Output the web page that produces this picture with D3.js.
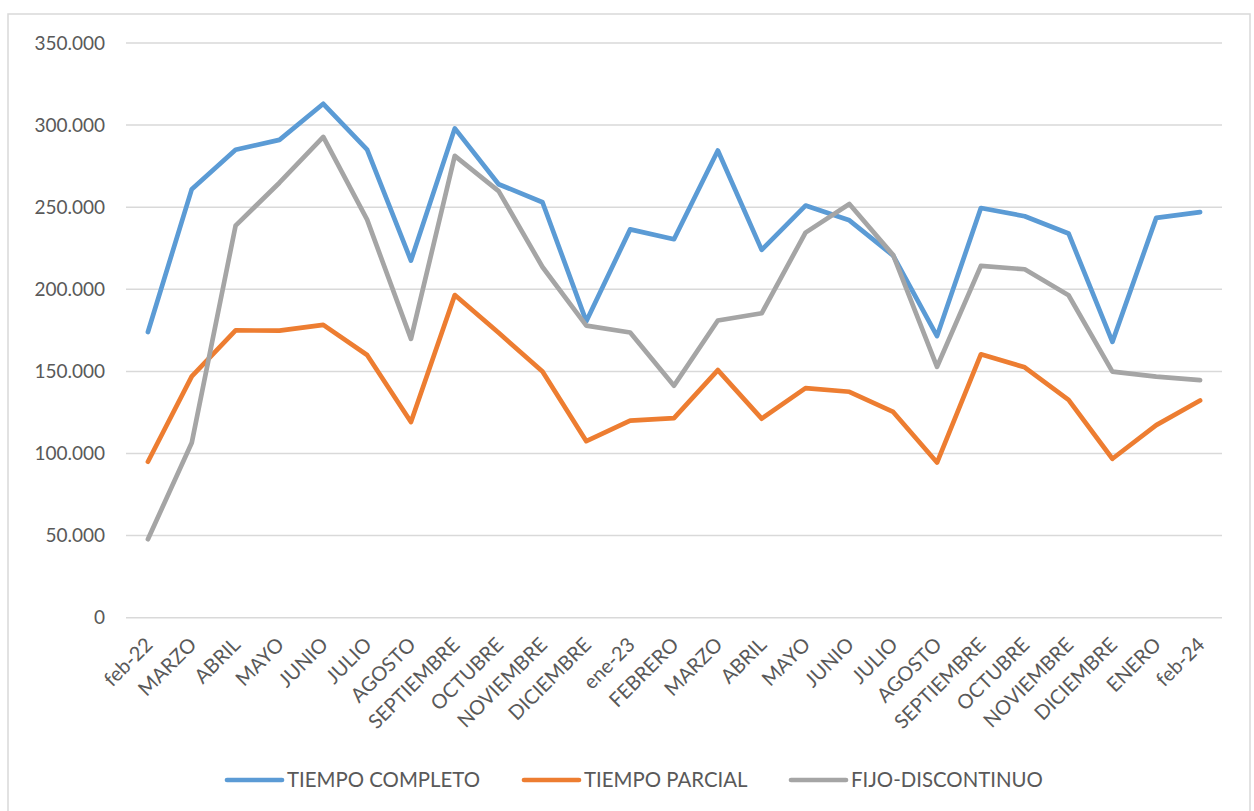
<!DOCTYPE html>
<html>
<head>
<meta charset="utf-8">
<script src="https://cdn.jsdelivr.net/npm/d3@7"></script>
<style>
  html, body { margin: 0; padding: 0; background: #ffffff; }
  svg { display: block; }
  text { font-family: "Lato", "Liberation Sans", sans-serif; fill: #595959; }
</style>
</head>
<body>
<svg id="chart" width="1254" height="811"></svg>
<script>
const categories = ["feb-22","MARZO","ABRIL","MAYO","JUNIO","JULIO","AGOSTO","SEPTIEMBRE","OCTUBRE","NOVIEMBRE","DICIEMBRE","ene-23","FEBRERO","MARZO","ABRIL","MAYO","JUNIO","JULIO","AGOSTO","SEPTIEMBRE","OCTUBRE","NOVIEMBRE","DICIEMBRE","ENERO","feb-24"];
const tiempoCompleto = [174000,261000,285000,291000,313000,285000,217500,298000,264000,253000,180500,236500,230500,284500,224000,251000,242000,220500,171500,249500,244500,234000,168000,243500,247000];
const tiempoParcial = [95000,147000,175000,174800,178300,160000,119200,196500,173500,150000,107500,120000,121500,150800,121200,139800,137600,125300,94500,160400,152500,132700,96800,117300,132300];
const fijoDiscontinuo = [47800,106500,238800,264900,292800,242400,169800,281300,259800,213600,177900,173700,141300,181000,185400,234500,252000,220800,152800,214300,212200,196400,149900,146800,144700];
const seriesNames = ["TIEMPO COMPLETO","TIEMPO PARCIAL","FIJO-DISCONTINUO"];
const seriesColors = ["#5b9bd5","#ed7d31","#a5a5a5"];
const yTicks = [0,50000,100000,150000,200000,250000,300000,350000];

const svg = d3.select("#chart");
// outer chart border
svg.append("rect").attr("x",8).attr("y",14).attr("width",1242).attr("height",820)
  .attr("fill","#fff").attr("stroke","#d9d9d9").attr("stroke-width",1.5);

const x = d3.scalePoint().domain(d3.range(categories.length)).range([126,1222]).padding(0.5);
const y = d3.scaleLinear().domain([0,350000]).range([617.7,43]);

const fmt = v => d3.format(",")(v).replace(/,/g,".");

// gridlines
svg.append("g").selectAll("line").data(yTicks).join("line")
  .attr("x1",126).attr("x2",1222)
  .attr("y1",d=>y(d)).attr("y2",d=>y(d))
  .attr("stroke","#d9d9d9").attr("stroke-width",1.5);

// y labels
const yAxis = d3.axisLeft(y).tickValues(yTicks).tickFormat(fmt).tickSize(0).tickPadding(0);
const yg = svg.append("g").attr("transform","translate(105,0)").call(yAxis);
yg.select(".domain").remove();
yg.selectAll("text").attr("font-size",19).attr("fill","#595959")
  .style("font-family","Lato, 'Liberation Sans', sans-serif");

// x labels
const xAxis = d3.axisBottom(x).tickFormat(i=>categories[i]).tickSize(0).tickPadding(0);
const xg = svg.append("g").call(xAxis);
xg.select(".domain").remove();
xg.selectAll(".tick").attr("transform",d=>`translate(${x(d)+6},646)`);
xg.selectAll("text").attr("font-size",20).attr("fill","#595959")
  .style("font-family","Lato, 'Liberation Sans', sans-serif")
  .attr("text-anchor","end").attr("dy","0").attr("y",0)
  .attr("transform","rotate(-45)");

// lines
const allSeries = [tiempoCompleto, tiempoParcial, fijoDiscontinuo];
const line = d3.line().x((d,i)=>x(i)).y(d=>y(d));
allSeries.forEach((s,k)=>{
  svg.append("path").datum(s).attr("d",line)
    .attr("fill","none").attr("stroke",seriesColors[k]).attr("stroke-width",4.7)
    .attr("stroke-linejoin","round").attr("stroke-linecap","round");
});

// legend
const legendX = [227, 524, 791];
const lg = svg.append("g");
seriesNames.forEach((n,k)=>{
  lg.append("line").attr("x1",legendX[k]).attr("x2",legendX[k]+55)
    .attr("y1",780).attr("y2",780)
    .attr("stroke",seriesColors[k]).attr("stroke-width",4.7).attr("stroke-linecap","round");
  lg.append("text").attr("x",legendX[k]+60).attr("y",780).attr("dy","0.35em")
    .attr("font-size",20.4).text(n);
});
</script>
</body>
</html>
